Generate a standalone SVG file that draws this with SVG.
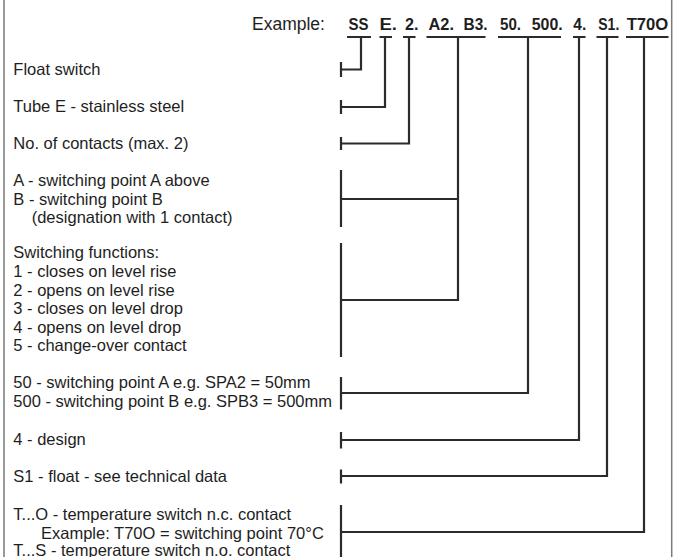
<svg xmlns="http://www.w3.org/2000/svg" width="684" height="557" viewBox="0 0 684 557">
<style>
.t{font-family:"Liberation Sans",Arial,sans-serif;font-size:16.5px;fill:#1e1e1e}
.h{font-family:"Liberation Sans",Arial,sans-serif;font-size:17.5px;fill:#1e1e1e}
.c{font-family:"Liberation Sans",Arial,sans-serif;font-size:17px;font-weight:bold;fill:#1e1e1e}
.ln{fill:none;stroke:#2b2b2b;stroke-width:2.2}
.fr{fill:none;stroke:#7a7a7a;stroke-width:1.5}
</style>
<rect width="684" height="557" fill="#fff"/>
<g id="frame">
<path class="fr" d="M4,0V557 M671.7,0V557"/>
</g>
<g id="header">
<text class="h" x="252" y="30">Example:</text>
<text class="c" x="348.5" y="30" textLength="20" lengthAdjust="spacingAndGlyphs">SS</text>
<text class="c" x="379.5" y="30" textLength="17.5" lengthAdjust="spacingAndGlyphs">E.</text>
<text class="c" x="405" y="30" textLength="13.5" lengthAdjust="spacingAndGlyphs">2.</text>
<text class="c" x="428.5" y="30" textLength="25.5" lengthAdjust="spacingAndGlyphs">A2.</text>
<text class="c" x="463.5" y="30" textLength="24" lengthAdjust="spacingAndGlyphs">B3.</text>
<text class="c" x="500" y="30" textLength="21" lengthAdjust="spacingAndGlyphs">50.</text>
<text class="c" x="531.7" y="30" textLength="31" lengthAdjust="spacingAndGlyphs">500.</text>
<text class="c" x="573.3" y="30" textLength="13" lengthAdjust="spacingAndGlyphs">4.</text>
<text class="c" x="598.3" y="30" textLength="21" lengthAdjust="spacingAndGlyphs">S1.</text>
<text class="c" x="626.7" y="30" textLength="41.6" lengthAdjust="spacingAndGlyphs">T70O</text>
</g>
<g id="node-float"><text class="t" x="13.3" y="75">Float switch</text></g>
<g id="node-tube"><text class="t" x="13.3" y="111.7">Tube E - stainless steel</text></g>
<g id="node-contacts"><text class="t" x="13.3" y="149">No. of contacts (max. 2)</text></g>
<g id="node-ab">
<text class="t" x="13.3" y="186">A - switching point A above</text>
<text class="t" x="13.3" y="204.5">B - switching point B</text>
<text class="t" x="31.7" y="223">(designation with 1 contact)</text>
</g>
<g id="node-functions">
<text class="t" x="13.3" y="258">Switching functions:</text>
<text class="t" x="13.3" y="277">1 - closes on level rise</text>
<text class="t" x="13.3" y="295.5">2 - opens on level rise</text>
<text class="t" x="13.3" y="314">3 - closes on level drop</text>
<text class="t" x="13.3" y="332.5">4 - opens on level drop</text>
<text class="t" x="13.3" y="351">5 - change-over contact</text>
</g>
<g id="node-points">
<text class="t" x="13.3" y="388">50 - switching point A e.g. SPA2 = 50mm</text>
<text class="t" x="13.3" y="406.5">500 - switching point B e.g. SPB3 = 500mm</text>
</g>
<g id="node-design"><text class="t" x="13.3" y="445">4 - design</text></g>
<g id="node-float-s1"><text class="t" x="13.3" y="482">S1 - float - see technical data</text></g>
<g id="node-temp">
<text class="t" x="13.3" y="520">T...O - temperature switch n.c. contact</text>
<text class="t" x="41" y="538.5">Example: T70O = switching point 70°C</text>
<text class="t" x="13.3" y="555.5">T...S - temperature switch n.o. contact</text>
</g>
<g id="connectors">
<path class="ln" d="M341,62V77 M341,69.5H361V37 M347,37H371"/>
<path class="ln" d="M341,100V114 M341,107H385V37 M379.5,37H392"/>
<path class="ln" d="M341,137V150 M341,143.5H409V37 M403,37H415.5"/>
<path class="ln" d="M341,170V227 M341,243V357 M341,199H458 M341,300H458V37 M426.5,37H485.5"/>
<path class="ln" d="M341,377V409.5 M341,393H528V37 M498,37H561"/>
<path class="ln" d="M341,432V448.5 M341,440H579V37 M573,37H585.5"/>
<path class="ln" d="M341,469.5V483.5 M341,476H607V37 M596.5,37H618.5"/>
<path class="ln" d="M341,505V557 M341,532H644V37 M626,37H668.5"/>
</g>
</svg>
